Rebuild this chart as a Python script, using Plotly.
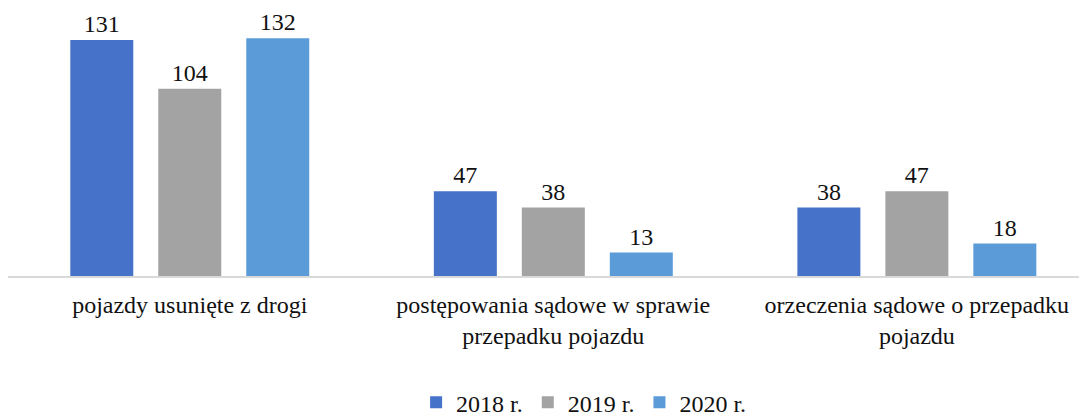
import plotly.graph_objects as go

# dane
categories = ['pojazdy usunięte z drogi',
              'postępowania sądowe w sprawie<br>przepadku pojazdu',
              'orzeczenia sądowe o przepadku<br>pojazdu']
series_names = ['2018 r.', '2019 r.', '2020 r.']
values_2018 = [131, 47, 38]
values_2019 = [104, 38, 47]
values_2020 = [132, 13, 18]

colors = ['#4672c9', '#a3a3a3', '#5b9bd8']
font_family = 'Liberation Serif, Times New Roman, serif'

fig = go.Figure()
for name, vals, col in zip(series_names, [values_2018, values_2019, values_2020], colors):
    fig.add_trace(go.Bar(
        x=categories, y=vals, name=name,
        marker=dict(color=col, line=dict(width=0)),
        text=vals, textposition='outside',
        textfont=dict(size=24, color='#111111', family=font_family),
        cliponaxis=False,
    ))

# the page body adds an 8px margin, so the figure is laid out relative to that
fig.update_layout(
    width=1087, height=419,
    barmode='group', bargap=0.274, bargroupgap=0.284,
    paper_bgcolor='white', plot_bgcolor='white',
    font=dict(family=font_family, color='#111111', size=24),
    margin=dict(l=0, r=0, t=14, b=151, autoexpand=False),
    xaxis=dict(range=[-0.5, 2.49], showline=True, linecolor='#d9d9d9', linewidth=2,
               ticks='outside', ticklen=6, tickcolor='rgba(0,0,0,0)',
               tickfont=dict(size=24), showgrid=False, zeroline=False),
    yaxis=dict(range=[0, 141], visible=False, showgrid=False),
    legend=dict(orientation='h', x=0.53, xanchor='center',
                yref='container', y=0.058, yanchor='middle',
                font=dict(size=24), itemwidth=30, traceorder='normal'),
    showlegend=True,
)

fig.write_html("out.html")
